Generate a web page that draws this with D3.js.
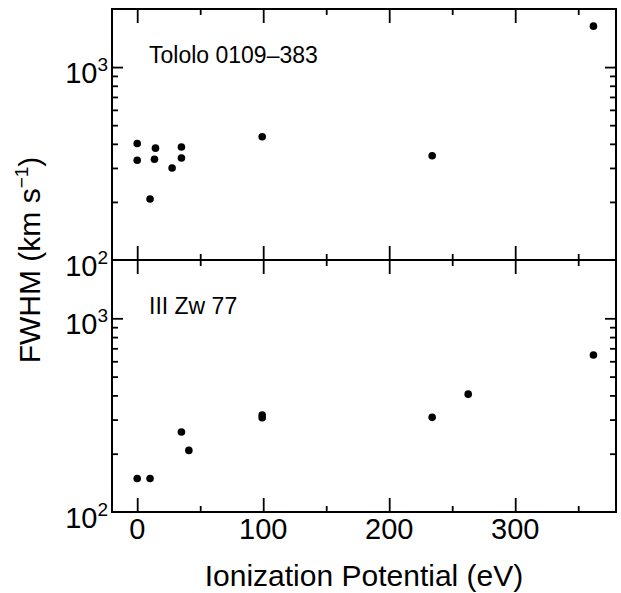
<!DOCTYPE html>
<html>
<head>
<meta charset="utf-8">
<script src="https://cdn.jsdelivr.net/npm/d3@7"></script>
<style>
  body { margin: 0; background: #fff; }
  text { font-family: "Liberation Sans", Arial, Helvetica, sans-serif; fill: #000; }
</style>
</head>
<body>
<div id="chart"></div>
<script>
// Tololo 0109-383 (top panel)
const tololo_ip = [0, 0, 10.2, 14.5, 13.7, 27.7, 35.1, 35.1, 99.2, 234.1, 362.1];
const tololo_fwhm = [402, 329, 207, 380, 333, 300, 385, 338, 435, 347, 1630];
// III Zw 77 (bottom panel)
const zw77_ip = [0, 10.2, 35.1, 41.0, 99.2, 99.2, 234.1, 262.7, 362.1];
const zw77_fwhm = [149, 149, 259, 208, 317, 307, 308, 406, 646];

const x_major = [0, 100, 200, 300];
const x_minor = [50, 150, 250, 350];
const y_major = [1000];
const y_minor = [200, 300, 400, 500, 600, 700, 800, 900];
const y_labels = [{ base: "10", exp: "3", v: 1000 }, { base: "10", exp: "2", v: 100 }];

const panel_names = ["Tololo 0109\u2013383", "III Zw 77"];

let width = 621, height = 593;
let margin = {top: 9, right: 5, bottom: 81, left: 112};
let plot_right = width - margin.right;
let plot_bottom = height - margin.bottom;
let mid = 260;

let x = d3.scaleLinear()
  .domain([-20, 380])
  .range([margin.left, plot_right]);

let svg = d3.select("#chart").append("svg")
  .attr("width", width)
  .attr("height", height);

const panels = [
  { top: margin.top, bottom: mid, ip: tololo_ip, fwhm: tololo_fwhm, name: panel_names[0] },
  { top: mid, bottom: plot_bottom, ip: zw77_ip, fwhm: zw77_fwhm, name: panel_names[1] }
];

function tickAxis(g, axis) {
  g.call(axis);
  g.select(".domain").remove();
  g.selectAll(".tick line").attr("stroke", "#000").attr("stroke-width", 1.8);
  g.selectAll(".tick text").remove();
}

panels.forEach(function(p, i) {
  let y = d3.scaleLog()
    .domain([100, 2000])
    .range([p.bottom, p.top]);

  // x ticks on top and bottom edges, pointing inward
  [[x_major, 14], [x_minor, 6]].forEach(function(t) {
    svg.append("g")
      .attr("transform", "translate(0," + p.top + ")")
      .call(tickAxis, d3.axisBottom(x).tickValues(t[0]).tickSizeOuter(0).tickSizeInner(t[1]));
    svg.append("g")
      .attr("transform", "translate(0," + p.bottom + ")")
      .call(tickAxis, d3.axisTop(x).tickValues(t[0]).tickSizeOuter(0).tickSizeInner(t[1]));
  });

  // y ticks on left and right edges, pointing inward
  [[y_major, 11], [y_minor, 6]].forEach(function(t) {
    svg.append("g")
      .attr("transform", "translate(" + margin.left + ",0)")
      .call(tickAxis, d3.axisRight(y).tickValues(t[0]).tickSizeOuter(0).tickSizeInner(t[1]));
    svg.append("g")
      .attr("transform", "translate(" + plot_right + ",0)")
      .call(tickAxis, d3.axisLeft(y).tickValues(t[0]).tickSizeOuter(0).tickSizeInner(t[1]));
  });

  // y tick labels 10^3, 10^2
  y_labels.forEach(function(l) {
    let t = svg.append("text")
      .attr("x", margin.left - 4)
      .attr("y", y(l.v) + 16)
      .attr("text-anchor", "end")
      .attr("font-size", 29);
    t.append("tspan").text(l.base);
    t.append("tspan")
      .attr("dy", -12)
      .attr("font-size", 19)
      .text(l.exp);
  });

  // panel border
  svg.append("rect")
    .attr("x", margin.left)
    .attr("y", p.top)
    .attr("width", plot_right - margin.left)
    .attr("height", p.bottom - p.top)
    .attr("fill", "none")
    .attr("stroke", "#000")
    .attr("stroke-width", 2);

  svg.append("text")
    .attr("x", 149)
    .attr("y", p.top + 54)
    .attr("font-size", 23)
    .text(p.name);

  svg.selectAll(".dot-" + i)
    .data(p.ip.map(function(d, j) { return { ip: d, fwhm: p.fwhm[j] }; }))
    .enter().append("circle")
    .attr("class", "dot-" + i)
    .attr("cx", function(d) { return x(d.ip); })
    .attr("cy", function(d) { return y(d.fwhm); })
    .attr("r", 3.8)
    .attr("fill", "#000");
});

// x tick labels
svg.selectAll(".x-label")
  .data(x_major)
  .enter().append("text")
  .attr("class", "x-label")
  .attr("x", function(d) { return x(d); })
  .attr("y", plot_bottom + 27)
  .attr("text-anchor", "middle")
  .attr("font-size", 29)
  .text(function(d) { return d; });

svg.append("text")
  .attr("x", (margin.left + plot_right) / 2)
  .attr("y", 586)
  .attr("text-anchor", "middle")
  .attr("font-size", 30)
  .text("Ionization Potential (eV)");

let ytitle = svg.append("text")
  .attr("transform", "translate(40," + mid + ") rotate(-90)")
  .attr("text-anchor", "middle")
  .attr("font-size", 30);
ytitle.append("tspan").text("FWHM (km s");
ytitle.append("tspan").attr("dy", -12).attr("font-size", 19).text("\u22121");
ytitle.append("tspan").attr("dy", 12).text(")");
</script>
</body>
</html>
